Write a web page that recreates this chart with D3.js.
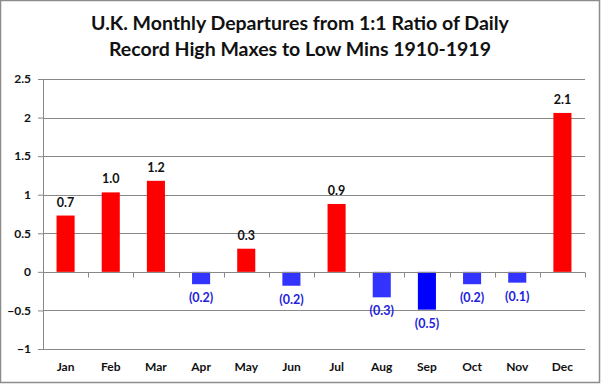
<!DOCTYPE html>
<html>
<head>
<meta charset="utf-8">
<script src="https://cdn.jsdelivr.net/npm/d3@7"></script>
<style>
  body { margin: 0; background: #fff; }
  svg { display: block; font-family: Lato, "Open Sans", sans-serif; }
</style>
</head>
<body>
<div class="chart"></div>
<script>
// data
const months = ['Jan', 'Feb', 'Mar', 'Apr', 'May', 'Jun', 'Jul', 'Aug', 'Sep', 'Oct', 'Nov', 'Dec'];
const departures = [0.73, 1.03, 1.18, -0.16, 0.30, -0.18, 0.88, -0.33, -0.49, -0.16, -0.14, 2.06];
const yTicks = [-1, -0.5, 0, 0.5, 1, 1.5, 2, 2.5];
const titleLines = ['U.K. Monthly Departures from 1:1 Ratio of Daily', 'Record High Maxes to Low Mins 1910-1919'];

let W = 601, H = 384;
let margin = { top: 79, right: 16, bottom: 35, left: 43 },
    width = W - margin.left - margin.right,
    height = H - margin.top - margin.bottom;

let svg = d3.select('.chart').append('svg')
    .attr('width', W)
    .attr('height', H);

// outer border
svg.append('rect')
    .attr('x', 0.5).attr('y', 0.5)
    .attr('width', W - 2).attr('height', H - 2)
    .style('fill', 'white')
    .style('stroke', '#8c8c8c')
    .style('stroke-width', 1.5);

// title
svg.append('text')
    .attr('text-anchor', 'middle')
    .style('font-size', '19.5px')
    .style('font-weight', 'bold')
    .style('fill', '#111')
    .selectAll('tspan')
    .data(titleLines)
    .enter().append('tspan')
    .attr('x', 300)
    .attr('y', (d, i) => 30 + i * 26)
    .text(d => d);

let g = svg.append('g')
    .attr('transform', 'translate(' + margin.left + ',' + margin.top + ')');

let x = d3.scaleBand().domain(months).range([0, width]).paddingInner(0.6).paddingOuter(0.3);
let y = d3.scaleLinear().domain([-1, 2.5]).range([height, 0]);

// gridlines
g.selectAll('.grid')
    .data(yTicks)
    .enter().append('line')
    .attr('x1', 0).attr('x2', width)
    .attr('y1', d => Math.round(y(d)) + 0.5)
    .attr('y2', d => Math.round(y(d)) + 0.5)
    .style('stroke', '#888')
    .style('stroke-width', 1);

// y axis
let yAxis = g.append('g')
    .call(d3.axisLeft(y).tickValues(yTicks).tickSize(5).tickFormat(d3.format('')));
yAxis.select('.domain').attr('stroke', '#888');
yAxis.selectAll('.tick line').attr('stroke', '#888');
yAxis.selectAll('.tick text')
    .attr('x', -12)
    .style('font-size', '12px')
    .style('font-weight', 'bold')
    .style('fill', '#111')
    .style('font-family', 'Lato, sans-serif');

// bars
g.selectAll('.bar')
    .data(departures)
    .enter().append('rect')
    .attr('x', (d, i) => x(months[i]))
    .attr('width', x.bandwidth())
    .attr('y', d => y(Math.max(0, d)))
    .attr('height', d => Math.abs(y(d) - y(0)))
    .style('fill', d => d >= 0 ? '#ff0000' : (d < -0.45 ? '#0000ff' : '#3333ff'));

// x axis on zero line, ticks between categories
let step = x.step();
let xAxisG = g.append('g')
    .attr('transform', 'translate(0,' + (Math.round(y(0)) + 0.5) + ')');
xAxisG.append('line')
    .attr('x1', 0).attr('x2', width)
    .style('stroke', '#888');
xAxisG.selectAll('.xt')
    .data(d3.range(months.length + 1))
    .enter().append('line')
    .attr('x1', i => Math.round(i * step) + 0.5)
    .attr('x2', i => Math.round(i * step) + 0.5)
    .attr('y1', 0).attr('y2', 5)
    .style('stroke', '#888');

// month labels at bottom
g.selectAll('.mlab')
    .data(months)
    .enter().append('text')
    .attr('x', d => x(d) + x.bandwidth() / 2)
    .attr('y', height + 22)
    .attr('text-anchor', 'middle')
    .style('font-size', '12px')
    .style('font-weight', 'bold')
    .style('fill', '#111')
    .text(d => d);

// value labels
g.selectAll('.vlab')
    .data(departures)
    .enter().append('text')
    .attr('x', (d, i) => x(months[i]) + x.bandwidth() / 2)
    .attr('y', d => d >= 0 ? y(d) - 9 : y(d) + 18)
    .attr('text-anchor', 'middle')
    .style('font-size', '12.5px')
    .style('font-weight', 'bold')
    .style('fill', d => d >= 0 ? '#111' : '#2222dd')
    .text(d => d >= 0 ? d.toFixed(1) : '(' + Math.abs(d).toFixed(1) + ')');
</script>
</body>
</html>
